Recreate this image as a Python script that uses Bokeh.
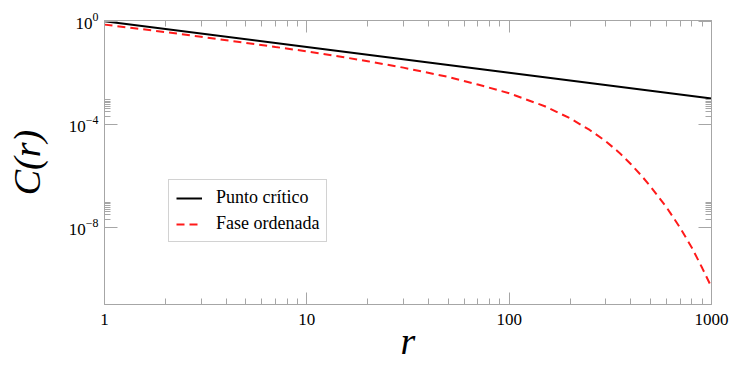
from bokeh.plotting import figure
from bokeh.models import (LogAxis, FixedTicker, LogTickFormatter, CustomJSTickFormatter,
                          Legend, LegendItem, Range1d)
from bokeh.embed import file_html
from bokeh.resources import INLINE

# Correlation function C(r) at the critical point and in the ordered phase
r_critico = [1, 10, 100, 1000]
c_critico = [1.0, 0.1, 0.01, 0.001]

r_ordenada = [1, 2, 3, 5, 7, 10, 15, 20, 30, 50, 70, 100, 150, 200, 250, 300,
              350, 400, 450, 500, 600, 700, 800, 900, 1000]
c_ordenada = [0.74, 0.38, 0.25, 0.145, 0.10, 0.068, 0.041, 0.028, 0.0158, 0.0069,
              0.0035, 0.0016, 5.0e-4, 1.7e-4, 6.0e-5, 2.2e-5, 7.9e-6, 2.8e-6,
              1.02e-6, 3.8e-7, 5.9e-8, 9.5e-9, 1.6e-9, 2.6e-10, 4.7e-11]

x_major = [1, 10, 100, 1000]
x_minor = [2, 3, 4, 5, 6, 7, 8, 9, 20, 30, 40, 50, 60, 70, 80, 90,
           200, 300, 400, 500, 600, 700, 800, 900]
y_major = [1.0, 1e-4, 1e-8]
y_minor = [2e-4, 3e-4, 4e-4, 5e-4, 6e-4, 7e-4, 8e-4, 9e-4,
           2e-8, 3e-8, 4e-8, 5e-8, 6e-8, 7e-8, 8e-8, 9e-8]

SERIF = "'Liberation Serif', 'Times New Roman', serif"
FRAME = "#a6a6a6"

p = figure(width=731, height=371, x_axis_type="log", y_axis_type="log",
           output_backend="svg", toolbar_location=None,
           x_range=Range1d(1, 1000), y_range=Range1d(1e-11, 1.07),
           min_border_left=104, min_border_right=20, min_border_top=20,
           min_border_bottom=67)
p.outline_line_color = FRAME
p.xgrid.visible = False
p.ygrid.visible = False
p.background_fill_color = "white"
p.border_fill_color = "white"


def style_axis(ax, major_len):
    ax.axis_line_color = FRAME
    ax.major_tick_line_color = FRAME
    ax.minor_tick_line_color = FRAME
    ax.major_tick_in = major_len
    ax.major_tick_out = 0
    ax.minor_tick_in = 6
    ax.minor_tick_out = 0
    ax.major_label_text_font = SERIF
    ax.major_label_text_font_size = "17px"
    ax.major_label_text_color = "black"
    ax.axis_label_text_font = SERIF
    ax.axis_label_text_font_style = "italic"
    ax.axis_label_text_font_size = "38px"
    ax.axis_label_text_color = "black"


xt = FixedTicker(ticks=x_major, minor_ticks=x_minor)
yt = FixedTicker(ticks=y_major, minor_ticks=y_minor)

xax = p.xaxis[0]
xax.ticker = xt
xax.formatter = CustomJSTickFormatter(code="return tick.toFixed(0)")
style_axis(xax, 12)
xax.major_label_standoff = 9
xax.axis_label = "r"
xax.axis_label_standoff = -8

yax = p.yaxis[0]
yax.ticker = yt
yax.formatter = LogTickFormatter()
style_axis(yax, 13)
yax.major_label_standoff = 6
yax.axis_label = "C(r)"
yax.axis_label_standoff = 18

blank = CustomJSTickFormatter(code="return ''")
top = LogAxis(ticker=FixedTicker(ticks=x_major, minor_ticks=x_minor), formatter=blank)
style_axis(top, 12)
top.major_label_text_font_size = "0px"
top.major_label_standoff = 0
p.add_layout(top, "above")

right = LogAxis(ticker=FixedTicker(ticks=y_major, minor_ticks=y_minor), formatter=blank)
style_axis(right, 13)
right.major_label_text_font_size = "0px"
right.major_label_standoff = 0
p.add_layout(right, "right")

l1 = p.line(r_critico, c_critico, line_color="black", line_width=2)
l2 = p.line(r_ordenada, c_ordenada, line_color="#ff1a1a", line_width=2,
            line_dash="8 5")

legend = Legend(items=[LegendItem(label="Punto crítico", renderers=[l1]),
                       LegendItem(label="Fase ordenada", renderers=[l2])],
                location=(64, 62))
legend.label_text_font = SERIF
legend.label_text_font_size = "18px"
legend.label_text_color = "black"
legend.border_line_color = FRAME
legend.border_line_width = 1
legend.background_fill_color = "white"
legend.background_fill_alpha = 1
legend.glyph_width = 26
legend.glyph_height = 20
legend.label_height = 20
legend.label_standoff = 14
legend.spacing = 5
legend.padding = 7
legend.margin = 0
p.add_layout(legend, "center")

open("out.html", "w").write(file_html(p, INLINE))
